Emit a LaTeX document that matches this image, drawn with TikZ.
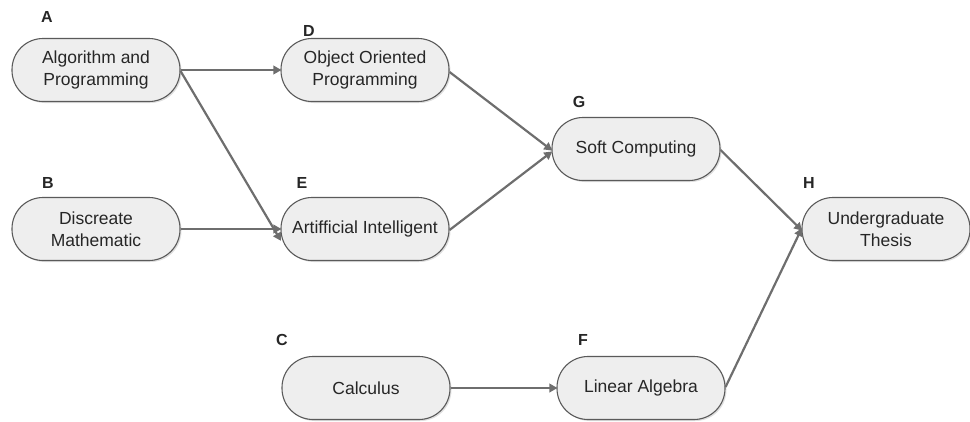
\documentclass[tikz,border=0pt]{standalone}
\usepackage{fontspec}
\setmainfont{Liberation Sans}
\usetikzlibrary{arrows.meta,shadows}
\definecolor{boxfill}{HTML}{EEEEEE}
\definecolor{boxline}{HTML}{5A5A5A}
\definecolor{arrowgray}{HTML}{6E6E6E}
\definecolor{txt}{HTML}{262626}
\tikzset{
  course/.style={draw=boxline, line width=1.1pt, fill=boxfill, rectangle,
    rounded corners=31pt, minimum width=168pt, minimum height=63pt,
    align=center, text=txt, font=\fontsize{17.5}{22}\selectfont,
    drop shadow={shadow xshift=1.5pt, shadow yshift=-1.5pt, opacity=0.25}},
  tag/.style={font=\bfseries\fontsize{16}{18}\selectfont, text=txt, inner sep=0pt},
  link/.style={draw=arrowgray, line width=2.2pt,
    -{Triangle[length=8pt,width=8.5pt]}, shorten >=-1pt}
}
\begin{document}
\begin{tikzpicture}[x=1pt,y=-1pt]
\useasboundingbox (0,0) rectangle (970,421);
% course boxes
\node[course] (A) at (96,70)   {Algorithm and\\Programming};
\node[course] (D) at (365,70)  {Object Oriented\\Programming};
\node[course] (B) at (96,229)  {Discreate\\Mathematic};
\node[course] (E) at (365,229) {Artifficial Intelligent};
\node[course] (G) at (636,149) {Soft Computing};
\node[course] (H) at (886,229) {Undergraduate\\Thesis};
\node[course] (C) at (366,388) {Calculus};
\node[course] (F) at (641,388) {Linear Algebra};
% letter tags
\node[tag] (lA) at (47,17)  {A};
\node[tag] (lD) at (309,31) {D};
\node[tag] (lB) at (48,183) {B};
\node[tag] (lE) at (302,183) {E};
\node[tag] (lG) at (579,102) {G};
\node[tag] (lH) at (809,183) {H};
\node[tag] (lC) at (282,340) {C};
\node[tag] (lF) at (583,340) {F};
% prerequisites
\draw[link] (A.east) -- (D.west);
\draw[link] ([yshift=-1pt]A.east) -- ([yshift=-11pt]E.west);
\draw[link] (B.east) -- (E.west);
\draw[link] ([yshift=-2pt]D.east) -- ([yshift=-1pt]G.west);
\draw[link] ([yshift=-1pt]E.east) -- ([yshift=-3pt]G.west);
\draw[link] ([yshift=-1pt]G.east) -- ([yshift=-1pt]H.west);
\draw[link] ([yshift=1pt]F.east) -- (H.west);
\draw[link] (C.east) -- (F.west);
\end{tikzpicture}
\end{document}
